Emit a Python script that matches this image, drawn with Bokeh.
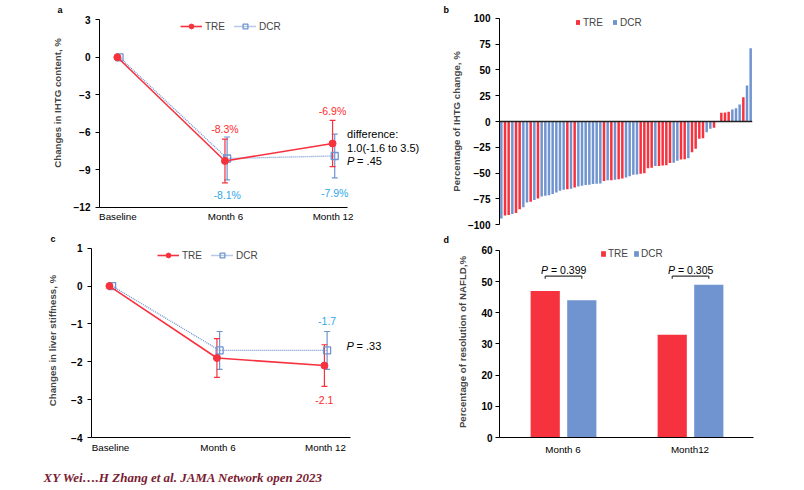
from bokeh.plotting import figure
from bokeh.layouts import column, row
from bokeh.models import (Range1d, FixedTicker, Whisker, TeeHead, ColumnDataSource,
                          Legend, LegendItem, Span, FactorRange)
from bokeh.transform import dodge
from bokeh.core.properties import value
from bokeh.embed import file_html
from bokeh.resources import INLINE

FONT = "Liberation Sans"
RED = "#F7323F"
BLUE = "#7094D0"
RED_TXT = "#FF2B2B"
BLUE_TXT = "#2FA8E8"
NB = "\u00a0"

# ---------------- data ----------------
timepoints = ["Baseline", "Month 6", "Month 12"]
# panel a: change in IHTG content (%)
ihtg_tre = [0, -8.3, -6.9]
ihtg_tre_err = [0, 1.75, 1.85]
ihtg_dcr = [0, -8.1, -7.9]
ihtg_dcr_err = [0, 1.72, 1.75]
ihtg_tre_labels = ["", "-8.3%", "-6.9%"]
ihtg_dcr_labels = ["", "-8.1%", "-7.9%"]

# panel b: waterfall of individual IHTG change (%)
wf_values = [-94, -91, -90.5, -89.5, -88.5, -85, -83, -78.5, -77.7, -76,
             -74.5, -72.5, -72, -71.3, -70.3, -68.7, -67, -66, -65.5, -65,
             -64, -63, -62.3, -61.6, -61.3, -60.6, -60.3, -60, -57.7, -57,
             -56.8, -56.5, -56, -55.3, -54.2, -52.9, -51.6, -51.3, -50.6, -50,
             -45.2, -44.8, -43.2, -43, -42.6, -42.3, -40.3, -40, -38, -36.8,
             -36.5, -35.5, -29.7, -26.5, -16.8, -16.1, -10.3, -7.1, -6.1, 0,
             8.4, 8.7, 9.4, 11.6, 12.9, 16.5, 23.5, 34.8, 71]
wf_groups = ["DCR", "TRE", "TRE", "DCR", "TRE", "TRE", "DCR", "DCR", "TRE", "DCR",
             "TRE", "DCR", "DCR", "DCR", "DCR", "DCR", "DCR", "DCR", "TRE", "DCR",
             "TRE", "DCR", "DCR", "DCR", "DCR", "DCR", "DCR", "DCR", "TRE", "DCR",
             "TRE", "DCR", "TRE", "TRE", "DCR", "DCR", "DCR", "DCR", "TRE", "TRE",
             "TRE", "TRE", "DCR", "TRE", "TRE", "TRE", "TRE", "DCR", "DCR", "TRE",
             "TRE", "DCR", "TRE", "TRE", "TRE", "TRE", "DCR", "DCR", "TRE", "DCR",
             "TRE", "TRE", "TRE", "DCR", "DCR", "DCR", "TRE", "DCR", "DCR"]

# panel c: change in liver stiffness
stiff_tre = [0, -1.9, -2.1]
stiff_tre_err = [0, 0.51, 0.55]
stiff_dcr = [0, -1.7, -1.7]
stiff_dcr_err = [0, 0.5, 0.5]
stiff_tre_labels = ["", "", "-2.1"]
stiff_dcr_labels = ["", "", "-1.7"]

# panel d: resolution of NAFLD (%)
months = ["Month 6", "Month12"]
resol_tre = [47, 33]
resol_dcr = [44, 49]
p_values = ["0.399", "0.305"]


def style_common(p, letter=None, offset=0, standoff=0):
    p.outline_line_color = None
    p.xgrid.visible = False
    p.ygrid.visible = False
    p.background_fill_color = "white"
    p.border_fill_color = "white"
    if letter:
        p.title.text = letter
        p.title.align = "left"
        p.title.offset = offset
        p.title.standoff = standoff
        p.title.text_font = FONT
        p.title.text_font_style = "bold"
        p.title.text_font_size = "9px"
        p.title.text_color = "black"


def style_yaxis(ax, ticks, bounds, label, size_lbl, standoff_lbl, tick_std):
    ax.ticker = FixedTicker(ticks=ticks)
    ax.bounds = bounds
    ax.axis_label = label
    ax.axis_label_text_font = FONT
    ax.axis_label_text_font_style = "bold"
    ax.axis_label_text_font_size = size_lbl
    ax.axis_label_standoff = standoff_lbl
    ax.major_label_text_font = FONT
    ax.major_label_text_font_style = "bold"
    ax.major_label_text_font_size = "10px"
    ax.major_label_text_color = "black"
    ax.major_label_standoff = tick_std
    ax.major_tick_out = 4
    ax.major_tick_in = 0
    ax.minor_tick_out = 0
    ax.minor_tick_in = 0
    ax.axis_line_color = "black"
    ax.major_tick_line_color = "black"


def style_xaxis(ax, standoff):
    ax.major_label_text_font = FONT
    ax.major_label_text_font_size = "9.8px"
    ax.major_label_text_color = "black"
    ax.major_label_standoff = standoff
    ax.major_tick_out = 0
    ax.major_tick_in = 0
    ax.minor_tick_out = 0
    ax.minor_tick_in = 0
    ax.axis_line_color = "black"


def line_panel(width, height, xr, yr, borders, yticks, ybounds, xbounds, ylabel,
               tre, tre_err, dcr, dcr_err, dx_tre, dx_dcr, leg_loc, xstd, ylbl_std, ytick_std,
               ylbl_size, letter, letter_off, letter_std):
    p = figure(width=width, height=height, x_range=Range1d(*xr), y_range=Range1d(*yr),
               output_backend="svg", toolbar_location=None, title="",
               min_border_left=borders[0], min_border_right=borders[1],
               min_border_top=borders[2], min_border_bottom=borders[3])
    style_common(p, letter, letter_off, letter_std)
    style_yaxis(p.yaxis[0], yticks, ybounds, ylabel, ylbl_size, ylbl_std, ytick_std)
    p.xaxis.ticker = FixedTicker(ticks=list(range(len(timepoints))))
    p.xaxis.major_label_overrides = {i: t for i, t in enumerate(timepoints)}
    p.xaxis.bounds = xbounds
    style_xaxis(p.xaxis[0], xstd)

    xt = [i + dx_tre for i in range(len(tre))]
    xd = [i + dx_dcr for i in range(len(dcr))]
    wt = ColumnDataSource(dict(x=[x for x, e in zip(xt, tre_err) if e > 0],
                               lower=[v - e for v, e in zip(tre, tre_err) if e > 0],
                               upper=[v + e for v, e in zip(tre, tre_err) if e > 0]))
    wd = ColumnDataSource(dict(x=[x for x, e in zip(xd, dcr_err) if e > 0],
                               lower=[v - e for v, e in zip(dcr, dcr_err) if e > 0],
                               upper=[v + e for v, e in zip(dcr, dcr_err) if e > 0]))
    p.add_layout(Whisker(source=wd, base="x", lower="lower", upper="upper",
                         line_color=BLUE, line_width=1.2,
                         upper_head=TeeHead(size=6, line_color=BLUE, line_width=1.2),
                         lower_head=TeeHead(size=6, line_color=BLUE, line_width=1.2)))
    p.add_layout(Whisker(source=wt, base="x", lower="lower", upper="upper",
                         line_color=RED, line_width=1.2,
                         upper_head=TeeHead(size=6, line_color=RED, line_width=1.2),
                         lower_head=TeeHead(size=6, line_color=RED, line_width=1.2)))
    l2 = p.line(xd, dcr, line_color=BLUE, line_width=1.3, line_dash="1 1")
    s2 = p.scatter(xd, dcr, marker="square", size=7, line_color=BLUE, fill_alpha=0, line_width=1.3)
    l1 = p.line(xt, tre, line_color=RED, line_width=1.6)
    s1 = p.scatter(xt, tre, marker="circle", size=7, line_color=RED, fill_color=RED)
    leg = Legend(items=[LegendItem(label="TRE", renderers=[l1, s1]),
                        LegendItem(label="DCR", renderers=[l2, s2])],
                 orientation="horizontal", location=leg_loc, padding=0, margin=0, spacing=9,
                 glyph_width=22, glyph_height=12, label_height=12, label_standoff=3,
                 border_line_color=None, background_fill_alpha=0,
                 label_text_font=FONT, label_text_font_size="10px")
    p.add_layout(leg)
    return p, xt, xd


def p_text(p, x, y, rest, x_off, y_off, size, **kw):
    """italic P followed by the rest of the statistic"""
    p.text(x=x, y=y, text=value("P") if "source" in kw else ["P"] * len(y if isinstance(y, list) else [0]),
           x_offset=x_off, y_offset=y_off, text_align="left", text_baseline="middle",
           text_font=value(FONT), text_font_style="italic", text_font_size=size,
           text_color="black", **kw)
    p.text(x=x, y=y, text=rest, x_offset=x_off + 10, y_offset=y_off, text_align="left",
           text_baseline="middle", text_font=value(FONT), text_font_size=size,
           text_color="black", **kw)


# ---------------- panel a ----------------
pa, xt_a, xd_a = line_panel(440, 231, (-0.171, 2.998), (-12.024, 3.425), (99, 0, 14, 24),
                            [-12, -9, -6, -3, 0, 3], (-12, 3), (-0.171, 2.13),
                            NB * 6 + "Changes in IHTG content, %",
                            ihtg_tre, ihtg_tre_err, ihtg_dcr, ihtg_dcr_err, -0.005, 0.015,
                            (81, 175), 3, 8, 5, "9.7px", "a", -42, 0)
pa.text(x=xt_a, y=ihtg_tre, text=ihtg_tre_labels, text_color=RED_TXT, text_align="center",
        text_baseline="middle", y_offset=-32, text_font=value(FONT), text_font_size="10.5px")
pa.text(x=xd_a, y=ihtg_dcr, text=ihtg_dcr_labels, text_color=BLUE_TXT, text_align="center",
        text_baseline="middle", y_offset=37, text_font=value(FONT), text_font_size="10.5px")
m12 = (ihtg_tre[2] + ihtg_dcr[2]) / 2
pa.text(x=[2, 2], y=[m12, m12], text=["difference:", "1.0(-1.6 to 3.5)"], x_offset=14,
        y_offset=[-16, -2], text_align="left", text_baseline="middle",
        text_font=value(FONT), text_font_size="11px", text_color="black")
p_text(pa, [2], [m12], ["= .45"], 14, 11, "11px")

# ---------------- panel b ----------------
pb = figure(width=364, height=231, x_range=Range1d(-0.5, len(wf_values) - 0.5),
            y_range=Range1d(-103.6, 103.6), output_backend="svg", toolbar_location=None, title="",
            x_axis_location=None,
            min_border_left=59, min_border_right=52, min_border_top=14, min_border_bottom=3)
style_common(pb, "b", -56, 0)
style_yaxis(pb.yaxis[0], [-100, -75, -50, -25, 0, 25, 50, 75, 100], (-100, 100),
            "Percentage of IHTG change, %", "9.7px", 3, 5)
idx = list(range(len(wf_values)))
src_t = ColumnDataSource(dict(x=[i for i, g in zip(idx, wf_groups) if g == "TRE"],
                              top=[v for v, g in zip(wf_values, wf_groups) if g == "TRE"]))
src_d = ColumnDataSource(dict(x=[i for i, g in zip(idx, wf_groups) if g == "DCR"],
                              top=[v for v, g in zip(wf_values, wf_groups) if g == "DCR"]))
bt = pb.vbar(x="x", top="top", bottom=0, width=0.68, source=src_t, fill_color=RED, line_color=None)
bd = pb.vbar(x="x", top="top", bottom=0, width=0.68, source=src_d, fill_color=BLUE, line_color=None)
pb.add_layout(Span(location=0, dimension="width", line_color="#222222", line_width=1.3))
legb = Legend(items=[LegendItem(label="TRE", renderers=[bt]), LegendItem(label="DCR", renderers=[bd])],
              orientation="horizontal", location=(76, 200), padding=0, margin=0, spacing=9,
              glyph_width=5, glyph_height=6, label_height=12, label_standoff=3,
              border_line_color=None, background_fill_alpha=0,
              label_text_font=FONT, label_text_font_size="10px")
pb.add_layout(legb)

# ---------------- panel c ----------------
pc, xt_c, xd_c = line_panel(440, 231, (-0.177, 3.07), (-4, 1.124), (91, 0, 12, 25),
                            [-4, -3, -2, -1, 0, 1], (-4, 1), (-0.177, 2.23),
                            "Changes in liver stiffness, %",
                            stiff_tre, stiff_tre_err, stiff_dcr, stiff_dcr_err, -0.01, 0.015,
                            (66, 176), 4, 10, 5, "9.7px", "c", -41, 0)
pc.text(x=xt_c, y=stiff_tre, text=stiff_tre_labels, text_color=RED_TXT, text_align="center",
        text_baseline="middle", y_offset=34, text_font=value(FONT), text_font_size="10.5px")
pc.text(x=xd_c, y=stiff_dcr, text=stiff_dcr_labels, text_color=BLUE_TXT, text_align="center",
        text_baseline="middle", y_offset=-29, text_font=value(FONT), text_font_size="10.5px")
p_text(pc, [2], [stiff_dcr[2]], ["= .33"], 21, -4, "11px")

# ---------------- panel d ----------------
pd_ = figure(width=364, height=231, x_range=FactorRange(*months), y_range=Range1d(0, 61.28),
             output_backend="svg", toolbar_location=None, title="",
             min_border_left=59, min_border_right=51, min_border_top=15, min_border_bottom=25)
style_common(pd_, "d", -56, 3)
style_yaxis(pd_.yaxis[0], [0, 10, 20, 30, 40, 50, 60], (0, 60),
            "Percentage of resolution of NAFLD,%", "9.7px", 10, 3)
style_xaxis(pd_.xaxis[0], 6)
srcd = ColumnDataSource(dict(m=months, tre=resol_tre, dcr=resol_dcr,
                             ptxt=["= " + v for v in p_values]))
r1 = pd_.vbar(x=dodge("m", -0.14, range=pd_.x_range), top="tre", width=0.23, source=srcd,
              fill_color=RED, line_color=None)
r2 = pd_.vbar(x=dodge("m", 0.148, range=pd_.x_range), top="dcr", width=0.23, source=srcd,
              fill_color=BLUE, line_color=None)
BR_TOP, BR_END = 51.8, 50.9
pd_.segment(x0=dodge("m", -0.14, range=pd_.x_range), x1=dodge("m", 0.148, range=pd_.x_range),
            y0=BR_TOP, y1=BR_TOP, source=srcd, line_color="#333333", line_width=1.2)
pd_.segment(x0=dodge("m", -0.14, range=pd_.x_range), x1=dodge("m", -0.14, range=pd_.x_range),
            y0=BR_TOP, y1=BR_END, source=srcd, line_color="#333333", line_width=1.2)
pd_.segment(x0=dodge("m", 0.148, range=pd_.x_range), x1=dodge("m", 0.148, range=pd_.x_range),
            y0=BR_TOP, y1=BR_END, source=srcd, line_color="#333333", line_width=1.2)
pd_.text(x="m", y=53.8, text=value("P"), source=srcd, x_offset=-22, text_align="left",
         text_baseline="middle", text_font=value(FONT), text_font_style="italic",
         text_font_size="10.5px", text_color="black")
pd_.text(x="m", y=53.8, text="ptxt", source=srcd, x_offset=-12, text_align="left",
         text_baseline="middle", text_font=value(FONT), text_font_size="10.5px", text_color="black")
legd = Legend(items=[LegendItem(label="TRE", renderers=[r1]), LegendItem(label="DCR", renderers=[r2])],
              orientation="horizontal", location=(101, 178), padding=0, margin=0, spacing=5,
              glyph_width=6, glyph_height=7, label_height=12, label_standoff=2,
              border_line_color=None, background_fill_alpha=0,
              label_text_font=FONT, label_text_font_size="10px")
pd_.add_layout(legd)

# ---------------- footer ----------------
pf = figure(width=804, height=28, x_range=Range1d(0, 804), y_range=Range1d(0, 28),
            output_backend="svg", toolbar_location=None, title=None,
            min_border_left=0, min_border_right=0, min_border_top=0, min_border_bottom=0)
style_common(pf)
pf.xaxis.visible = False
pf.yaxis.visible = False
pf.text(x=[43], y=[13], text=["XY Wei\u2026.H Zhang et al. JAMA Network open 2023"],
        text_font=value("Liberation Serif"), text_font_style="bold italic",
        text_font_size="13px", text_color="#7A1C32", text_baseline="middle", text_align="left")

layout = column(row(column(pa), column(pb)), row(column(pc), column(pd_)), pf)
open("out.html", "w").write(file_html(layout, INLINE))
